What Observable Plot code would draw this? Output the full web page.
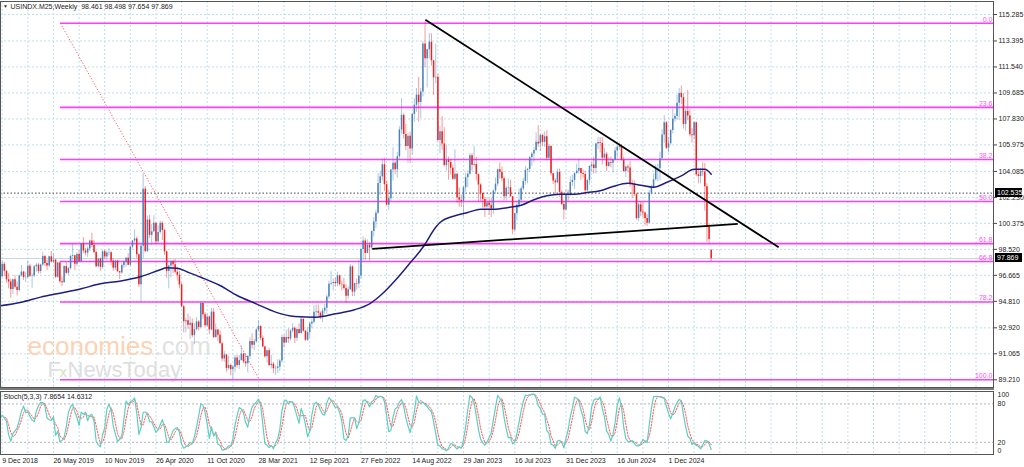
<!DOCTYPE html>
<html><head><meta charset="utf-8">
<script src="https://cdn.jsdelivr.net/npm/d3@7"></script>
<script src="https://cdn.jsdelivr.net/npm/@observablehq/plot@0.6"></script>
<style>
html,body{margin:0;padding:0;background:#fff;}
#wrap{position:relative;width:1024px;height:467px;overflow:hidden;background:#fff;}
#wrap svg{display:block;position:absolute;left:0;}
.pbox{position:absolute;left:995px;width:27px;height:9px;background:#000;color:#fff;font:7px "Liberation Sans",Arial,sans-serif;line-height:9px;padding-left:2px;box-sizing:border-box;}
#sep{position:absolute;left:0;top:388px;width:994px;height:2px;background:#7a7a7a;}
</style></head><body><div id="wrap"></div>
<script>
// ---------------- DATA ----------------
const title = "USINDX.M25,Weekly\u00a0 98.461 98.498 97.654 97.869";
const stochTitle = "Stoch(5,3,3) 7.8654 14.6312";
const firstBarOffset = 7; // bars before 9 Dec 2018 (used only for indicator warm-up)

// weekly bars, Oct 21 2018 ... Apr 20 2025 (10 per row)
const open = [
95.75,96.40,96.54,96.91,96.47,96.96,97.19,
96.56,97.45,96.96,96.35,96.19,95.65,96.36,95.82,95.58,96.63,
96.90,96.50,96.52,97.31,96.60,96.62,97.28,97.39,96.94,97.41,
98.01,97.52,97.34,97.99,97.61,97.75,96.53,97.55,96.21,96.13,
97.29,96.81,97.15,98.02,98.07,97.46,98.16,97.66,98.92,98.40,
98.26,98.55,99.12,98.80,98.30,97.28,97.83,97.24,98.35,97.98,
98.26,98.27,97.68,97.18,97.68,96.93,96.84,97.36,97.61,97.88,
97.39,98.68,99.12,99.26,98.13,95.99,98.75,102.82,98.36,100.61,
99.52,99.77,100.38,99.07,99.73,100.38,99.86,98.34,96.94,97.33,
97.65,97.43,96.89,96.67,95.98,94.43,93.35,93.43,93.10,93.24,
92.36,92.79,93.34,92.94,94.65,93.85,93.06,93.69,92.77,94.04,
92.23,92.76,92.39,91.79,90.70,90.98,90.02,90.23,89.94,90.10,
90.77,90.23,90.58,91.04,90.48,90.36,90.88,91.94,91.67,91.92,
92.77,93.02,92.17,91.56,90.85,91.28,90.22,90.32,90.00,90.03,
90.13,90.56,92.23,91.84,92.23,92.12,92.69,92.89,92.17,92.80,
92.52,93.53,92.68,92.03,92.58,93.20,93.32,94.04,94.07,93.96,
93.64,94.12,94.32,95.12,96.03,96.09,96.16,96.07,96.63,96.00,
95.97,95.73,95.17,95.64,97.27,95.47,96.08,96.04,96.62,98.51,
99.12,98.23,98.80,98.62,99.79,100.48,101.09,103.22,103.70,104.56,
103.14,101.67,102.14,104.18,104.66,104.21,105.13,107.04,108.08,106.72,
105.86,106.59,105.68,108.15,108.81,109.53,109.00,109.76,113.18,112.12,
112.76,113.31,111.98,110.76,110.80,106.29,106.92,106.04,104.51,104.86,
104.72,104.31,103.52,103.88,102.20,102.02,101.93,102.92,103.63,103.88,
105.21,104.52,104.58,103.86,103.12,102.51,102.08,101.55,101.83,101.66,
101.41,102.69,103.18,104.20,104.03,103.56,102.27,102.89,102.92,102.27,
99.91,101.07,101.67,102.02,102.84,103.37,104.16,104.23,105.07,105.32,
105.58,106.17,106.04,106.65,106.16,106.56,105.02,105.86,103.92,103.40,
103.27,104.01,102.59,101.72,101.33,102.42,102.39,103.29,103.45,103.92,
104.10,104.29,103.94,103.86,102.71,103.43,104.43,104.55,104.30,106.04,
106.15,106.09,105.03,105.31,104.44,104.72,104.67,104.89,105.55,105.80,
105.87,104.88,104.08,104.40,104.32,103.21,103.14,102.45,100.72,101.70,
101.18,101.11,100.72,100.38,102.52,102.90,103.49,104.26,104.28,104.99,
106.68,107.55,105.74,106.06,107.00,107.80,108.00,108.95,109.65,109.35,
107.44,108.37,108.04,106.71,106.63,107.56,103.84,103.72,104.09,104.04,
102.99,100.10,98.461];

const high = [
96.70,97.20,97.70,97.69,97.20,97.50,97.30,
97.71,97.60,97.00,96.80,96.40,96.40,96.65,96.20,96.70,97.37,
96.95,96.90,97.70,97.45,96.80,97.35,97.50,97.50,97.45,98.32,
98.10,97.75,98.05,98.37,98.20,97.80,97.60,97.65,96.55,97.35,
97.60,97.25,98.10,98.90,98.10,98.30,98.45,98.95,99.37,98.60,
98.70,99.20,99.67,99.15,98.40,97.85,97.90,98.45,98.45,98.40,
98.55,98.35,97.85,97.75,97.75,96.95,97.50,97.70,97.95,98.20,
98.70,99.15,99.91,99.40,98.20,98.90,103.90,103.00,100.90,100.95,
100.30,100.93,100.40,100.20,100.55,100.50,99.95,98.40,97.40,97.75,
97.75,97.80,97.25,96.95,96.10,94.50,93.60,93.90,93.70,93.55,
93.20,93.65,93.45,94.74,94.70,94.00,93.90,93.75,94.30,94.30,
93.20,92.80,92.70,91.90,91.25,91.05,90.90,90.35,90.20,90.95,
90.95,90.95,91.60,91.10,91.05,90.95,92.20,92.50,92.10,92.85,
93.44,93.05,92.35,91.60,91.35,91.45,90.95,90.45,90.20,90.65,
90.65,92.40,92.40,92.75,92.85,92.80,93.20,93.00,92.85,93.20,
93.73,93.55,92.75,92.95,93.30,93.55,94.50,94.55,94.56,94.05,
94.30,94.60,95.25,96.25,96.95,96.40,96.45,96.90,96.70,96.25,
96.45,96.00,95.85,97.44,97.35,96.10,96.40,97.75,98.60,99.42,
99.30,99.20,99.00,99.85,100.80,101.30,103.93,104.07,105.01,105.00,
103.40,102.75,104.20,105.79,104.80,105.45,107.27,109.29,108.20,107.43,
106.80,106.90,108.25,109.27,110.00,110.79,110.00,113.34,114.78,112.80,
113.93,113.90,112.00,113.15,111.00,107.30,107.99,107.20,105.95,105.10,
104.90,104.55,105.63,103.95,102.90,102.40,103.00,103.96,104.12,105.36,
105.36,105.88,105.10,103.90,103.20,102.55,102.20,102.20,102.10,102.20,
102.75,103.62,104.26,104.70,104.40,103.70,103.02,103.55,103.45,102.30,
101.10,101.85,102.84,103.00,103.60,104.45,104.30,105.16,105.43,105.78,
106.84,107.35,106.75,106.75,106.90,107.00,106.00,105.95,103.95,103.55,
104.25,104.26,102.70,101.90,102.75,102.75,103.70,103.82,104.00,104.60,
104.97,104.30,104.20,104.10,103.50,104.50,104.73,105.10,106.10,106.52,
106.50,106.50,105.75,105.45,105.10,105.10,104.95,105.80,105.90,106.13,
106.00,105.10,104.45,104.55,104.80,103.45,103.40,102.50,101.80,101.90,
101.85,101.20,101.00,102.70,103.10,103.90,104.55,104.60,105.45,107.07,
108.07,107.65,106.50,107.10,108.54,108.20,109.54,110.00,110.18,109.65,
108.50,109.88,108.50,107.15,107.65,107.60,104.25,104.30,104.70,104.65,
103.20,100.30,98.498];

const low = [
95.60,96.05,96.30,96.40,96.00,96.60,96.50,
96.50,96.60,96.10,95.70,95.03,95.30,95.70,95.20,95.50,96.55,
96.30,96.15,96.45,96.50,95.75,96.50,96.90,96.75,96.75,97.30,
97.30,97.00,97.20,97.55,97.50,96.45,96.45,96.10,95.85,96.10,
96.70,96.65,97.05,97.70,97.00,97.30,97.60,97.55,98.20,98.05,
97.95,98.35,98.65,98.20,97.20,97.20,96.95,97.10,97.75,97.70,
98.05,97.35,96.95,97.00,96.85,96.36,96.75,97.15,97.25,97.35,
97.30,98.55,99.00,97.85,95.80,94.65,97.85,98.30,98.30,99.30,
98.80,99.70,98.85,98.90,99.60,99.15,98.10,96.45,95.70,96.50,
96.80,96.75,96.25,95.70,94.35,92.55,92.55,92.80,92.10,92.20,
91.75,92.70,92.70,92.85,93.55,92.95,92.95,92.45,92.70,92.15,
92.15,91.95,91.75,90.50,90.45,89.75,89.90,89.50,89.20,89.70,
90.05,89.95,90.55,90.35,90.10,89.70,90.65,91.40,91.30,91.80,
92.60,92.00,91.50,90.75,90.40,90.20,89.98,89.65,89.53,89.65,
89.80,90.40,91.50,91.80,91.80,92.00,92.55,91.80,91.95,92.45,
92.45,92.60,91.95,91.95,92.20,92.85,93.20,93.70,93.70,93.50,
93.30,93.90,93.90,94.95,95.95,95.55,95.85,95.85,95.90,95.55,
95.60,94.65,94.95,95.60,95.15,95.15,95.60,95.70,96.40,97.70,
97.72,98.20,97.70,98.50,99.40,100.00,101.00,102.35,103.40,102.65,
101.65,101.30,101.90,103.40,103.85,103.60,104.95,106.75,106.40,105.55,
104.65,104.64,105.25,107.60,108.30,107.60,107.87,109.40,111.50,110.05,
112.10,111.60,109.50,110.35,106.20,105.35,105.60,104.40,104.10,103.45,
103.80,103.45,103.40,101.80,101.53,101.50,100.82,102.60,102.95,103.80,
104.10,104.40,103.40,101.92,101.95,101.45,100.79,101.40,100.95,100.78,
101.00,102.45,103.00,103.55,103.35,101.97,101.95,102.45,102.25,99.57,
99.75,100.55,101.45,101.75,102.70,103.10,103.20,104.00,104.45,104.70,
105.50,105.80,105.50,105.85,105.80,104.85,104.85,103.75,103.15,102.45,
103.20,102.25,101.65,100.62,101.30,101.95,102.30,103.00,102.80,103.90,
103.90,103.45,103.60,102.35,102.60,103.10,104.00,103.90,103.90,105.65,
105.40,104.55,104.95,104.08,104.35,104.35,103.98,104.85,105.05,105.60,
104.80,104.00,103.65,104.00,102.95,102.15,102.30,100.60,100.50,100.85,
100.75,100.20,100.16,100.35,102.40,102.85,103.40,103.35,103.40,104.95,
106.10,105.65,105.40,105.95,106.75,107.60,107.75,107.70,108.85,107.10,
106.95,107.70,106.55,106.12,106.35,103.70,103.20,103.20,103.75,101.26,
99.01,98.90,97.654];

const close = [
96.40,96.54,96.91,96.47,96.96,97.19,96.56,
97.45,96.96,96.35,96.19,95.65,96.36,95.82,95.58,96.63,96.90,
96.50,96.52,97.31,96.60,96.62,97.28,97.39,96.94,97.41,98.01,
97.52,97.34,97.99,97.61,97.75,96.53,97.55,96.21,96.13,97.29,
96.81,97.15,98.02,98.07,97.46,98.16,97.66,98.92,98.40,98.26,
98.55,99.12,98.80,98.30,97.28,97.83,97.24,98.35,97.98,98.26,
98.27,97.68,97.18,97.68,96.93,96.84,97.36,97.61,97.88,97.39,
98.68,99.12,99.26,98.13,95.99,98.75,102.82,98.36,100.61,99.52,
99.77,100.38,99.07,99.73,100.38,99.86,98.34,96.94,97.33,97.65,
97.43,96.89,96.67,95.98,94.43,93.35,93.43,93.10,93.24,92.36,
92.79,93.34,92.94,94.65,93.85,93.06,93.69,92.77,94.04,92.23,
92.76,92.39,91.79,90.70,90.98,90.02,90.23,89.94,90.10,90.77,
90.23,90.58,91.04,90.48,90.36,90.88,91.94,91.67,91.92,92.77,
93.02,92.17,91.56,90.85,91.28,90.22,90.32,90.00,90.03,90.13,
90.56,92.23,91.84,92.23,92.12,92.69,92.89,92.17,92.80,92.52,
93.53,92.68,92.03,92.58,93.20,93.32,94.04,94.07,93.96,93.64,
94.12,94.32,95.12,96.03,96.09,96.16,96.07,96.63,96.00,95.97,
95.73,95.17,95.64,97.27,95.47,96.08,96.04,96.62,98.51,99.12,
98.23,98.80,98.62,99.79,100.48,101.09,103.22,103.70,104.56,103.14,
101.67,102.14,104.18,104.66,104.21,105.13,107.04,108.08,106.72,105.86,
106.59,105.68,108.15,108.81,109.53,109.00,109.76,113.18,112.12,112.76,
113.31,111.98,110.76,110.80,106.29,106.92,106.04,104.51,104.86,104.72,
104.31,103.52,103.88,102.20,102.02,101.93,102.92,103.63,103.88,105.21,
104.52,104.58,103.86,103.12,102.51,102.08,101.55,101.83,101.66,101.41,
102.69,103.18,104.20,104.03,103.56,102.27,102.89,102.92,102.27,99.91,
101.07,101.67,102.02,102.84,103.37,104.16,104.23,105.07,105.32,105.58,
106.17,106.04,106.65,106.16,106.56,105.02,105.86,103.92,103.40,103.27,
104.01,102.59,101.72,101.33,102.42,102.39,103.29,103.45,103.92,104.10,
104.29,103.94,103.86,102.71,103.43,104.43,104.55,104.30,106.04,106.15,
106.09,105.03,105.31,104.44,104.72,104.67,104.89,105.55,105.80,105.87,
104.88,104.08,104.40,104.32,103.21,103.14,102.45,100.72,101.70,101.18,
101.11,100.72,100.38,102.52,102.90,103.49,104.26,104.28,104.99,106.68,
107.55,105.74,106.06,107.00,107.80,108.00,108.95,109.65,109.35,107.44,
108.37,108.04,106.71,106.63,107.56,103.84,103.72,104.09,104.04,102.99,
100.10,99.23,97.869];

// moving average (blue line): week index from 9 Dec 2018, value
const maWeek  = [-1, 9, 18, 27, 37, 46, 55, 65, 74, 77, 82, 87, 93, 102, 110, 119, 128, 137, 147, 156, 165, 172, 178, 184, 190, 197, 203, 205, 212, 218, 224, 230, 237, 243, 249, 255, 261, 268, 274, 280, 286, 293, 299, 305, 311, 318, 324, 329, 332];
const maValue = [94.49, 94.75, 95.11, 95.39, 95.71, 96.06, 96.25, 96.58, 97.06, 97.20, 97.18, 96.89, 96.53, 95.94, 95.23, 94.63, 94.04, 93.73, 93.68, 93.92, 94.21, 94.63, 95.35, 96.30, 97.37, 98.67, 100.10, 100.44, 100.92, 101.15, 101.39, 101.39, 101.51, 101.67, 102.06, 102.34, 102.46, 102.46, 102.58, 102.70, 103.01, 103.24, 103.10, 102.96, 103.29, 103.77, 104.24, 104.24, 103.89];

// price axis ticks
const priceTicks = [115.285, 113.395, 111.540, 109.685, 107.830, 105.975, 104.085, 102.230, 100.375, 98.520, 96.665, 94.810, 92.920, 91.065, 89.210];
// time axis labels
const dateLabels = ["9 Dec 2018","26 May 2019","10 Nov 2019","26 Apr 2020","11 Oct 2020","28 Mar 2021","12 Sep 2021","27 Feb 2022","14 Aug 2022","29 Jan 2023","16 Jul 2023","31 Dec 2023","16 Jun 2024","1 Dec 2024"];

// Fibonacci retracement
const fibLevels = [0, 23.6, 38.2, 50.0, 61.8, 66.8, 78.2, 100.0];
const fibLabels = ["0.0", "23.6", "38.2", "50.0", "61.8", "66.8", "78.2", "100.0"];
const fibHigh = 114.66, fibLow = 89.21;
const fibDiagStart = "2019-06-18", fibDiagEnd = "2021-03-31";

// trend lines
const trendX1 = ["2022-09-26", "2022-04-05"];
const trendY1 = [114.91, 98.56];
const trendX2 = ["2025-11-27", "2025-07-16"];
const trendY2 = [98.67, 100.34];

// horizontal price lines
const levelLine = 102.535;
const bidPrice = 97.869;

// stochastic panel levels
const stochLevels = [20, 80];

// ---------------- BUILD ----------------
const FONT = '"Liberation Sans", Arial, Helvetica, sans-serif';
const WEEK = 7 * 864e5;
const T0 = Date.UTC(2018, 11, 9);
const PX_PER_WEEK = 2.1356, X0 = 1.7, AXIS_X = 993;
const xDomain = [new Date(T0 - X0 / PX_PER_WEEK * WEEK), new Date(T0 + (AXIS_X - X0) / PX_PER_WEEK * WEEK)];
const weekDate = i => new Date(T0 + i * WEEK);
const parseD = d3.utcParse("%Y-%m-%d");
const parseLabel = d3.utcParse("%d %b %Y");

const bars = close.map((c, k) => ({date: weekDate(k - firstBarOffset), o: open[k], h: high[k], l: low[k], c}));
const upBars = bars.filter(d => d.c >= d.o), dnBars = bars.filter(d => d.c < d.o);

const maPts = maWeek.map((w, j) => ({date: weekDate(w), v: maValue[j]}));
const fib = fibLevels.map((p, j) => ({price: fibHigh - p / 100 * (fibHigh - fibLow), label: fibLabels[j]}));
const trends = trendX1.map((x, j) => ({x1: parseD(x), y1: trendY1[j], x2: parseD(trendX2[j]), y2: trendY2[j]}));
const fibDiag = [{x1: parseD(fibDiagStart), y1: fibHigh, x2: parseD(fibDiagEnd), y2: fibLow}];
const gridDates = d3.range(0, 466, 12).map(weekDate);
const tickDates = dateLabels.map(parseLabel);

// Stochastic (5,3,3)
const n = close.length;
const K = [], D = [];
for (let t = 0; t < n; t++) {
  if (t < 6) { K.push(NaN); continue; }
  let num = 0, den = 0;
  for (let s = t - 2; s <= t; s++) {
    const hh = d3.max(high.slice(s - 4, s + 1)), ll = d3.min(low.slice(s - 4, s + 1));
    num += close[s] - ll; den += hh - ll;
  }
  K.push(100 * num / den);
}
for (let t = 0; t < n; t++) D.push(t < 8 ? NaN : (K[t] + K[t - 1] + K[t - 2]) / 3);
const stoch = bars.map((b, k) => ({date: b.date, k: K[k], d: D[k]}));

const GRID = "#bfe0ea", BULL = "#4a81bb", BEAR = "#f21f1f", FIB = "#ff3cff";

const main = Plot.plot({
  width: 1024, height: 389,
  marginLeft: 0, marginRight: 31, marginTop: 1, marginBottom: 2,
  style: {fontFamily: FONT, fontSize: "7px", background: "transparent", overflow: "hidden"},
  x: {type: "utc", domain: xDomain, range: [0, AXIS_X], axis: null},
  y: {domain: [89.21, 115.285], range: [379.3, 14], axis: null},
  marks: [
    Plot.ruleX(gridDates, {x: d => d, stroke: GRID, strokeDasharray: "2,2"}),
    Plot.ruleY(priceTicks, {y: d => d, stroke: GRID, strokeDasharray: "2,2"}),
    Plot.text(["economies"], {text: d => d, frameAnchor: "top-left", dx: 27, dy: 345.5, lineAnchor: "middle", textAnchor: "start", fontSize: 26, fill: "#fbd3b4"}),
    Plot.text([".com"], {text: d => d, frameAnchor: "top-left", dx: 154, dy: 345.5, lineAnchor: "middle", textAnchor: "start", fontSize: 26, fill: "#e2e2e2"}),
    Plot.text(["F"], {text: d => d, frameAnchor: "top-left", dx: 47, dy: 368.5, lineAnchor: "middle", textAnchor: "start", fontSize: 22, fill: "#dedede"}),
    Plot.text(["x"], {text: d => d, frameAnchor: "top-left", dx: 59, dy: 371, lineAnchor: "middle", textAnchor: "start", fontSize: 15, fill: "#cfe3c2"}),
    Plot.text(["NewsToday"], {text: d => d, frameAnchor: "top-left", dx: 67, dy: 368.5, lineAnchor: "middle", textAnchor: "start", fontSize: 22, fill: "#dedede"}),
    Plot.ruleY([bidPrice], {y: d => d, stroke: "#c9d6de", strokeWidth: 1}),
    Plot.ruleY([levelLine], {y: d => d, stroke: "#333", strokeDasharray: "1.5,2", strokeWidth: 0.9}),
    Plot.ruleY(fib, {y: "price", x1: () => parseD(fibDiagStart), x2: () => xDomain[1], stroke: FIB, strokeWidth: 1.6}),
    Plot.text(fib, {y: "price", text: "label", frameAnchor: "right", textAnchor: "end", dx: -1, dy: -4, fill: "#ff4dff", fontSize: 7}),
    Plot.link(fibDiag, {x1: "x1", y1: "y1", x2: "x2", y2: "y2", stroke: "#ff5a5a", strokeDasharray: "1.2,1.8", strokeWidth: 1}),
    Plot.ruleX(upBars, {x: "date", y1: "l", y2: "h", stroke: BULL, strokeOpacity: 0.45, strokeWidth: 1, clip: true}),
    Plot.ruleX(dnBars, {x: "date", y1: "l", y2: "h", stroke: BEAR, strokeOpacity: 0.45, strokeWidth: 1, clip: true}),
    Plot.ruleX(upBars, {x: "date", y1: "o", y2: "c", stroke: BULL, strokeWidth: 1.5, clip: true}),
    Plot.ruleX(dnBars, {x: "date", y1: "o", y2: "c", stroke: BEAR, strokeWidth: 1.5, clip: true}),
    Plot.line(maPts, {x: "date", y: "v", stroke: "#1e1e82", strokeWidth: 1.5, curve: "monotone-x", clip: true}),
    Plot.link(trends, {x1: "x1", y1: "y1", x2: "x2", y2: "y2", stroke: "#000", strokeWidth: 1.8}),
    Plot.axisY({ticks: priceTicks, anchor: "right", tickSize: 3, tickPadding: 2, tickFormat: d => d.toFixed(3), fontSize: 7, label: null, fill: "#222", stroke: "#444"}),
    Plot.text(["\u25BC"], {text: d => d, frameAnchor: "top-left", dx: 5, dy: 5, lineAnchor: "middle", textAnchor: "middle", fontSize: 5, fill: "#333"}),
    Plot.text([title], {text: d => d, frameAnchor: "top-left", dx: 10, dy: 5, lineAnchor: "middle", textAnchor: "start", fontSize: 7, fill: "#222"}),
    Plot.frame({stroke: "#555"})
  ]
});

const stochPlot = Plot.plot({
  width: 1024, height: 78,
  marginLeft: 0, marginRight: 31, marginTop: 2, marginBottom: 13,
  style: {fontFamily: FONT, fontSize: "7px", background: "transparent", overflow: "visible"},
  x: {type: "utc", domain: xDomain, range: [0, AXIS_X], axis: null},
  y: {domain: [0, 100], range: [65.6, 1.6], axis: null},
  marks: [
    Plot.ruleX(gridDates, {x: d => d, stroke: GRID, strokeDasharray: "2,2"}),
    Plot.ruleY(stochLevels, {y: d => d, stroke: "#b5b5b5", strokeDasharray: "2,2"}),
    Plot.line(stoch, {x: "date", y: "d", stroke: "#ff5a5a", strokeWidth: 1, strokeDasharray: "1.5,1.5", clip: true}),
    Plot.line(stoch, {x: "date", y: "k", stroke: "#5ccfc2", strokeWidth: 1.2, clip: true}),
    Plot.text([stochTitle], {text: d => d, frameAnchor: "top-left", dx: 3, dy: 5, lineAnchor: "middle", textAnchor: "start", fontSize: 7, fill: "#222"}),
    Plot.text([80, 20], {y: d => d, text: d => String(d), frameAnchor: "right", textAnchor: "start", dx: 4, fontSize: 7, fill: "#222"}),
    Plot.text([100], {y: d => d, text: d => String(d), frameAnchor: "right", textAnchor: "start", dx: 4, dy: 4, fontSize: 7, fill: "#222"}),
    Plot.text([0], {y: d => d, text: d => String(d), frameAnchor: "right", textAnchor: "start", dx: 4, dy: -4, fontSize: 7, fill: "#222"}),
    Plot.text(tickDates, {x: d => d, text: d => d3.utcFormat("%-d %b %Y")(d), frameAnchor: "bottom", textAnchor: "start", dy: 6.5, lineAnchor: "middle", fontSize: 7, fill: "#222"}),
    Plot.frame({stroke: "#555"})
  ]
});

const wrap = document.getElementById("wrap");
main.style.top = "0px";
stochPlot.style.top = "389px";
wrap.appendChild(main);
wrap.appendChild(stochPlot);
const sep = document.createElement("div"); sep.id = "sep"; wrap.appendChild(sep);
const ys = main.scale("y");
[[levelLine, "102.535"], [bidPrice, "97.869"]].forEach(([v, s]) => {
  const b = document.createElement("div");
  b.className = "pbox";
  b.style.top = (ys.apply(v) - 4.5) + "px";
  b.textContent = s;
  wrap.appendChild(b);
});
</script>
</body></html>
